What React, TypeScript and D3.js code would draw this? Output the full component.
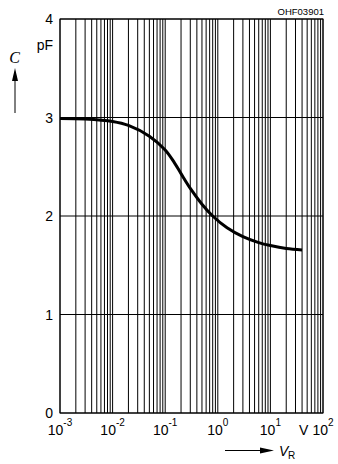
import React from "react";
import * as d3 from "d3";

const vr = [0.001, 0.003, 0.01, 0.02, 0.05, 0.1, 0.15, 0.2, 0.3, 0.5, 0.8, 1.5, 3, 6, 10, 20, 40];
const cap = [2.99, 2.985, 2.96, 2.92, 2.81, 2.67, 2.54, 2.43, 2.28, 2.12, 2.0, 1.88, 1.79, 1.73, 1.7, 1.67, 1.655];
const yTicks = [0, 1, 2, 3, 4];
const xExponents = [-3, -2, -1, 0, 1, 2];

const W = 338;
const H = 464;
const left = 60;
const right = 323;
const top = 19;
const bottom = 413;

export default function App() {
  const x = d3.scaleLog().domain([1e-3, 1e2]).range([left, right]);
  const y = d3.scaleLinear().domain([0, 4]).range([bottom, top]);
  const minor = x.ticks();
  const line = d3
    .line<number>()
    .x((_, i) => x(vr[i]))
    .y((d) => y(d))
    .curve(d3.curveCatmullRom.alpha(0.5));
  const font = "'Liberation Sans', Arial, sans-serif";

  return (
    <svg
      width={W}
      height={H}
      style={{ position: "absolute", left: 0, top: 0, background: "#fff" }}
      fontFamily={font}
    >
      <rect x={0} y={0} width={W} height={H} fill="#fff" />
      {minor.map((v, i) => (
        <line key={"v" + i} x1={x(v)} x2={x(v)} y1={top} y2={bottom} stroke="#000" strokeWidth={1} />
      ))}
      {yTicks.map((t) => (
        <line key={"h" + t} x1={left} x2={right} y1={y(t)} y2={y(t)} stroke="#000" strokeWidth={1} />
      ))}
      <rect x={left} y={top} width={right - left} height={bottom - top} fill="none" stroke="#000" strokeWidth={1} />
      <path d={line(cap) || ""} fill="none" stroke="#000" strokeWidth={3} />

      {yTicks.map((t) => (
        <text key={"yl" + t} x={53} y={y(t) + 5} textAnchor="end" fontSize={14}>
          {t}
        </text>
      ))}
      <text x={53} y={50} textAnchor="end" fontSize={14}>pF</text>
      <text x={14.5} y={63} textAnchor="middle" fontSize={16} fontStyle="italic" fontFamily="'Liberation Serif', 'Times New Roman', serif">C</text>
      <line x1={15} x2={15} y1={113} y2={78} stroke="#000" strokeWidth={1} />
      <path d="M15,68 L12,81 L18,81 Z" fill="#000" />

      {xExponents.map((e) => (
        <text key={"xl" + e} x={x(Math.pow(10, e))} y={435} textAnchor="middle" fontSize={14}>
          <tspan>10</tspan>
          <tspan dy={-9} fontSize={10}>{String(e)}</tspan>
        </text>
      ))}
      <text x={299} y={435} fontSize={14}>V</text>

      <line x1={225} x2={262} y1={450.5} y2={450.5} stroke="#000" strokeWidth={1} />
      <path d="M274,450.5 L260,447.5 L260,453.5 Z" fill="#000" />
      <text x={279} y={456} fontSize={14} fontStyle="italic">V</text>
      <text x={288} y={459} fontSize={10}>R</text>

      <text x={324} y={15} textAnchor="end" fontSize={9.5}>OHF03901</text>
    </svg>
  );
}
